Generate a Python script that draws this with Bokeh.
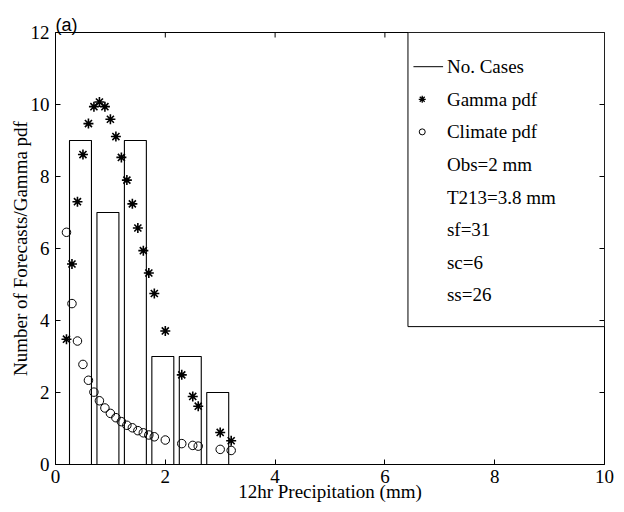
import math
from bokeh.plotting import figure
from bokeh.models import Range1d, FixedTicker, Title
from bokeh.core.properties import value
from bokeh.embed import file_html
from bokeh.resources import INLINE

# ---- data ----
bin_centers = [0.455, 0.955, 1.455, 1.955, 2.455, 2.955]
no_cases = [9, 7, 9, 3, 3, 2]
bar_width = 0.4

pdf_x = [0.2, 0.3, 0.4, 0.5, 0.6, 0.7, 0.8, 0.9, 1.0, 1.1, 1.2, 1.3, 1.4, 1.5,
         1.6, 1.7, 1.8, 2.0, 2.3, 2.5, 2.6, 3.0, 3.2]
gamma_pdf = [3.48, 5.57, 7.30, 8.61, 9.47, 9.94, 10.07, 9.94, 9.59, 9.11, 8.53,
             7.90, 7.24, 6.57, 5.94, 5.32, 4.75, 3.71, 2.49, 1.89, 1.62, 0.89, 0.66]
climate_pdf = [6.45, 4.47, 3.43, 2.78, 2.34, 2.01, 1.77, 1.57, 1.42, 1.30, 1.19,
               1.09, 1.02, 0.94, 0.88, 0.82, 0.77, 0.68, 0.58, 0.53, 0.51, 0.42, 0.39]

legend_labels = ["No. Cases", "Gamma pdf", "Climate pdf", "Obs=2 mm",
                 "T213=3.8 mm", "sf=31", "sc=6", "ss=26"]

x_ticks = [0, 2, 4, 6, 8, 10]
y_ticks = [0, 2, 4, 6, 8, 10, 12]
X_MIN, X_MAX, Y_MIN, Y_MAX = 0, 10, 0, 12
x_title = "12hr Precipitation (mm)"
y_title = "Number of Forecasts/Gamma pdf"

SERIF = "Liberation Serif"
FS = "19px"

p = figure(width=616, height=504, output_backend="svg", toolbar_location=None,
           x_range=Range1d(X_MIN, X_MAX), y_range=Range1d(Y_MIN, Y_MAX),
           min_border_left=55, min_border_right=12, min_border_top=32,
           min_border_bottom=40)
p.grid.visible = False
p.outline_line_color = "black"
p.outline_line_width = 1
p.background_fill_color = "white"
p.border_fill_color = "white"

for ax in list(p.below) + list(p.left):
    ax.major_tick_in = 5
    ax.major_tick_out = 0
    ax.minor_tick_in = 0
    ax.minor_tick_out = 0
    ax.axis_line_color = "black"
    ax.major_tick_line_color = "black"
    ax.major_label_text_font = SERIF
    ax.major_label_text_font_size = FS
    ax.major_label_text_color = "black"
    ax.axis_label_text_font = SERIF
    ax.axis_label_text_font_size = FS
    ax.axis_label_text_font_style = "normal"
    ax.axis_label_text_color = "black"

p.xaxis.ticker = FixedTicker(ticks=x_ticks)
p.yaxis.ticker = FixedTicker(ticks=y_ticks)
p.xaxis.axis_label = x_title
p.yaxis.axis_label = y_title
p.xaxis.major_label_standoff = 5
p.xaxis.axis_label_standoff = -5
p.yaxis.major_label_standoff = 6
p.yaxis.axis_label_standoff = -3

# panel label
p.add_layout(Title(text="(a)", text_font="Liberation Sans",
                   text_font_size="18px", text_font_style="normal",
                   align="left", offset=0, standoff=-4, text_color="black"),
             "above")

# inside ticks on top and right edges (mirroring the axis ticks)
p.ray(x=x_ticks, y=[Y_MAX] * len(x_ticks), length=5, length_units="screen",
      angle=-math.pi / 2, line_color="black", line_width=1)
p.ray(x=[X_MAX] * len(y_ticks), y=y_ticks, length=5, length_units="screen",
      angle=math.pi, line_color="black", line_width=1)

# bars
p.vbar(x=bin_centers, top=no_cases, width=bar_width, bottom=0,
       fill_color=None, line_color="black", line_width=1.1)

# pdf markers
p.scatter(pdf_x, gamma_pdf, marker="asterisk", size=10, line_color="black",
          line_width=1.6)
p.scatter(pdf_x, climate_pdf, marker="circle", size=8.5, fill_color=None,
          line_color="black", line_width=1)

# legend box
p.quad(left=6.42, right=X_MAX, bottom=3.83, top=Y_MAX, fill_color="white",
       line_color="black", line_width=1)
p.ray(x=[X_MAX] * 4, y=y_ticks[2:6], length=5, length_units="screen",
      angle=math.pi, line_color="black", line_width=1)
row_y = [11.05 - 0.905 * i for i in range(len(legend_labels))]
p.segment(x0=[6.52], y0=[row_y[0]], x1=[7.06], y1=[row_y[0]],
          line_color="black", line_width=1)
p.scatter([6.68], [row_y[1]], marker="asterisk", size=7, line_color="black",
          line_width=1.3)
p.scatter([6.68], [row_y[2]], marker="circle", size=6, fill_color=None,
          line_color="black", line_width=1)
p.text(x=[7.13] * len(legend_labels), y=row_y, text=legend_labels,
       text_font=value(SERIF), text_font_size=FS, text_baseline="middle",
       text_align="left", text_color="black")

open("out.html", "w").write(file_html(p, INLINE))
